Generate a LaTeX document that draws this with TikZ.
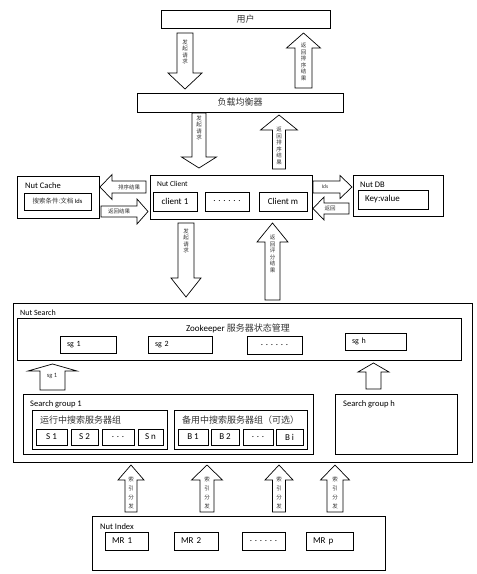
\documentclass[tikz,border=0pt]{standalone}
\usepackage{fontspec}
\setmainfont{Carlito}
\newfontfamily\cjk{Noto Sans CJK SC}
\usetikzlibrary{positioning}

% block arrows: x, tail y, head-base y, tip y, shaft half, head half
\newcommand{\varrow}[6]{\draw[blk] (#1-#5,#2) -- (#1-#5,#3) -- (#1-#6,#3) -- (#1,#4) -- (#1+#6,#3) -- (#1+#5,#3) -- (#1+#5,#2) -- cycle;}
% y, tail x, head-base x, tip x, shaft half, head half
\newcommand{\harrow}[6]{\draw[blk] (#2,#1-#5) -- (#3,#1-#5) -- (#3,#1-#6) -- (#4,#1) -- (#3,#1+#6) -- (#3,#1+#5) -- (#2,#1+#5) -- cycle;}

\begin{document}
\begin{tikzpicture}[x=1pt, y=-1pt,
  box/.style={draw, line width=0.9pt, inner sep=0pt},
  sbox/.style={draw, line width=0.8pt, inner sep=0pt, font=\fontsize{9}{10}\selectfont},
  lbox/.style={sbox, align=left, inner xsep=7pt},
  blk/.style={draw, line width=0.7pt, fill=white},
  lbl/.style={anchor=west, inner sep=0pt, font=\fontsize{8.5}{10}\selectfont},
  zh/.style={font=\cjk\fontsize{9}{10}\selectfont, text=black!80},
  tag/.style={inner sep=0pt, align=center, font=\cjk\fontsize{5.5}{6.5}\selectfont, text=black!80},
  idx/.style={tag, font=\cjk\fontsize{5.5}{9}\selectfont}]
\useasboundingbox (0,0) rectangle (477,574);

% user and load balancer
\node[box, zh, minimum width=169pt, minimum height=18pt] (user) at (245.5,19) {用户};
\node[box, zh, minimum width=206pt, minimum height=19pt] (lb) at (240,102.5) {负载均衡器};

% cache
\node[box, minimum width=82pt, minimum height=42pt] (cache) at (58,197) {};
\node[lbl] (cachet) at (25,186) {Nut Cache};
\node[sbox, minimum width=67pt, minimum height=17pt, font=\fontsize{6.5}{8}\selectfont] (cond) at (57.5,201.5) {{\cjk\color{black!80}搜索条件:文档} Ids};

% client
\node[box, minimum width=162pt, minimum height=44pt] (client) at (231,197) {};
\node[lbl, font=\fontsize{7.5}{9}\selectfont] (clientt) at (157,184) {Nut Client};
\node[sbox, minimum width=44pt, minimum height=19pt] (c1) at (175,201.5) {client 1};
\node[sbox, minimum width=44pt, minimum height=19pt] (cdots) at (227,201.5) {. . . . . .};
\node[sbox, minimum width=48pt, minimum height=19pt] (cm) at (283,201.5) {Client m};

% db
\node[box, minimum width=90pt, minimum height=41pt] (db) at (398,195.5) {};
\node[lbl] (dbt) at (360,185) {Nut DB};
\node[lbox, text width=56pt, minimum height=19pt] (kv) at (393,199.5) {Key:value};

% search
\node[box, minimum width=459pt, minimum height=159pt] (search) at (242.5,382.5) {};
\node[lbl, font=\fontsize{8}{9}\selectfont] (searcht) at (20,313) {Nut Search};
\node[box, minimum width=444pt, minimum height=42pt] (zk) at (239,339) {};
\node[inner sep=0pt, font=\fontsize{9}{10}\selectfont] (zkt) at (238,328) {Zookeeper {\cjk\color{black!80}服务器状态管理}};
\node[lbox, text width=42pt, minimum height=17pt, font=\fontsize{8}{9}\selectfont] (sg1) at (88,344.5) {sg 1};
\node[lbox, text width=50pt, minimum height=17pt, font=\fontsize{8}{9}\selectfont] (sg2) at (180,344.5) {sg 2};
\node[sbox, minimum width=55pt, minimum height=18pt] (sgdots) at (274.5,345) {. . . . . .};
\node[lbox, text width=47pt, minimum height=17pt, font=\fontsize{8}{9}\selectfont] (sgh) at (375.5,341.5) {sg h};

% search group 1
\node[box, minimum width=290pt, minimum height=60pt] (grp1) at (168,424) {};
\node[lbl] (grp1t) at (30,404) {Search group 1};
\node[sbox, minimum width=135pt, minimum height=39pt] (run) at (99.5,429.5) {};
\node[zh, anchor=west, inner sep=0pt] (runt) at (40,420) {运行中搜索服务器组};
\node[sbox, minimum width=31pt, minimum height=16pt] (s1) at (51.5,437) {S 1};
\node[sbox, minimum width=27pt, minimum height=16pt] (s2) at (84.5,437) {S 2};
\node[sbox, minimum width=32pt, minimum height=16pt] (sdots) at (118,437) {. . .};
\node[sbox, minimum width=25pt, minimum height=16pt] (sn) at (150.5,437) {S n};
\node[sbox, minimum width=133pt, minimum height=39pt] (bak) at (240.5,429.5) {};
\node[zh, anchor=west, inner sep=0pt] (bakt) at (182,420) {备用中搜索服务器组（可选）};
\node[sbox, minimum width=30pt, minimum height=16pt] (b1) at (193,437) {B 1};
\node[sbox, minimum width=28pt, minimum height=16pt] (b2) at (225,437) {B 2};
\node[sbox, minimum width=30pt, minimum height=16pt] (bdots) at (258,437) {. . .};
\node[sbox, minimum width=27pt, minimum height=16pt] (bi) at (289.5,437) {B i};

% search group h
\node[box, minimum width=122pt, minimum height=60pt] (grph) at (396,424) {};
\node[lbl] (grpht) at (343,404) {Search group h};

% index
\node[box, minimum width=293pt, minimum height=54pt] (index) at (238.5,543) {};
\node[lbl] (indext) at (100,527) {Nut Index};
\node[lbox, text width=29pt, minimum height=18pt] (mr1) at (126.5,541) {MR 1};
\node[lbox, text width=30pt, minimum height=18pt] (mr2) at (196,541) {MR 2};
\node[sbox, minimum width=43pt, minimum height=18pt] (mrdots) at (263.5,541) {. . . . . .};
\node[lbox, text width=33pt, minimum height=18pt] (mrp) at (329.5,541) {MR p};

% block arrows
\varrow{185}{33}{73}{89}{8}{17}
\varrow{303.5}{88}{48}{33}{8.5}{17}
\varrow{199}{113}{157}{168}{7}{17.5}
\varrow{279}{169}{130}{115}{6.5}{18.5}
\varrow{186}{223}{278}{297}{8}{15}
\varrow{272.5}{300}{242}{223}{7.5}{15.5}
\varrow{52.5}{390}{371}{364}{12.5}{24.5}
\varrow{373.5}{389}{372}{363}{7.5}{15.5}
\varrow{131}{512}{480}{465}{6}{13}
\varrow{207}{512}{480}{465}{7}{15.5}
\varrow{279}{512}{480}{465}{6.5}{14}
\varrow{335}{512}{480}{465}{8}{14.5}
\harrow{187}{146}{112}{100}{6}{12.5}
\harrow{211.5}{101}{137}{148}{5.5}{12.5}
\harrow{187}{313}{340}{352}{6}{11.5}
\harrow{208.5}{349}{324}{313}{5.5}{11.5}

% arrow texts
\node[tag] (reqa) at (185,52) {发\\起\\请\\求};
\node[tag] (reta) at (303.5,62) {返\\回\\排\\序\\结\\果};
\node[tag] (reqb) at (199,128) {发\\起\\请\\求};
\node[tag] (retb) at (279,146) {返\\回\\排\\序\\结\\果};
\node[tag] (reqc) at (186,241) {发\\起\\请\\求};
\node[tag] (retc) at (272.5,254) {返\\回\\评\\分\\结\\果};
\node[tag, font=\fontsize{6.5}{7}\selectfont] (sgup) at (52,376) {sg 1};
\node[idx] (idxa) at (131,493) {索\\引\\分\\发};
\node[idx] (idxb) at (207,493) {索\\引\\分\\发};
\node[idx] (idxc) at (279,493) {索\\引\\分\\发};
\node[idx] (idxd) at (335,493) {索\\引\\分\\发};
\node[tag] (sorta) at (129,187) {排序结果};
\node[tag] (backa) at (119,211.5) {返回结果};
\node[tag, font=\fontsize{5.5}{6.5}\selectfont] (ids) at (325,187) {Ids};
\node[tag] (backb) at (330,208.5) {返回};
\end{tikzpicture}
\end{document}
